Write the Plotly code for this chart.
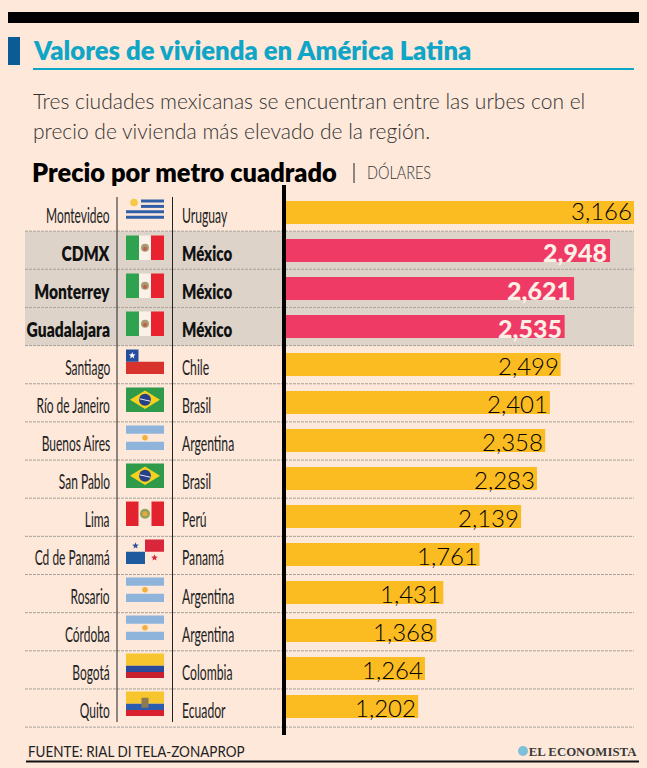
import math, json
import plotly.graph_objects as go

W, H = 647, 768
cities = ["Montevideo", "CDMX", "Monterrey", "Guadalajara", "Santiago", "Río de Janeiro", "Buenos Aires",
          "San Pablo", "Lima", "Cd de Panamá", "Rosario", "Córdoba", "Bogotá", "Quito"]
countries = ["Uruguay", "México", "México", "México", "Chile", "Brasil", "Argentina",
             "Brasil", "Perú", "Panamá", "Argentina", "Argentina", "Colombia", "Ecuador"]
values = [3166, 2948, 2621, 2535, 2499, 2401, 2358, 2283, 2139, 1761, 1431, 1368, 1264, 1202]
highlight = ["CDMX", "Monterrey", "Guadalajara"]

BG = "#FDE8DA"; GOLD = "#FBBC22"; PINK = "#EF3A65"; ROW = "#DDD3C9"; TEAL = "#0FA5C6"; NAVY = "#0B5B95"
SANS = "Lato"

px = lambda x: x / W
py = lambda y: 1 - y / H
shapes, annots, squeeze = [], [], []

def rect(x0, y0, x1, y1, color, layer="above"):
    shapes.append(dict(type="rect", xref="paper", yref="paper", x0=px(x0), x1=px(x1), y0=py(y1), y1=py(y0),
                       fillcolor=color, line_width=0, layer=layer))

def line(x0, y0, x1, y1, color, width, dash="solid", layer="above"):
    shapes.append(dict(type="line", xref="paper", yref="paper", x0=px(x0), x1=px(x1), y0=py(y0), y1=py(y1),
                       line=dict(color=color, width=width, dash=dash), layer=layer))

def poly(pts, color):
    p = "M " + " L ".join(f"{px(a):.5f},{py(b):.5f}" for a, b in pts) + " Z"
    shapes.append(dict(type="path", xref="paper", yref="paper", path=p, fillcolor=color, line_width=0, layer="above"))

def circle(cx, cy, r, color):
    shapes.append(dict(type="circle", xref="paper", yref="paper", x0=px(cx - r), x1=px(cx + r), y0=py(cy + r), y1=py(cy - r),
                       fillcolor=color, line_width=0, layer="above"))

def star(cx, cy, r, color):
    pts = []
    for k in range(10):
        rr = r if k % 2 == 0 else r * 0.42
        a = math.pi * k / 5
        pts.append((cx + rr * math.sin(a), cy - rr * math.cos(a)))
    poly(pts, color)

def text(x, y, s, size, color="#1a1a1a", family=SANS, anchor="left", weight=None, k=1):
    annots.append(dict(xref="paper", yref="paper", x=px(x), y=py(y), text=s, showarrow=False, xanchor=anchor, yanchor="middle",
                       font=dict(size=size, color=color, family=family, weight=weight), align=anchor))
    squeeze.append([k, anchor])

FX0, FX1, FH = 126, 164, 24.5
BLUE_AR = "#8FB4DC"

def flag(country, t):
    x0, x1, b = FX0, FX1, t + FH
    m = (x0 + x1) / 2
    c = (t + b) / 2
    if country == "Uruguay":
        for k in range(4):
            xs = x0 + 15 if k < 2 else x0
            yy = t + 2 + k * 5.4
            rect(xs, yy, x1, yy + 3, "#2F5FA8")
        circle(x0 + 8, t + 5, 3.8, "#F6C844")
    elif country == "México":
        rect(x0 + 13, t, x1 - 13, b, "#FBF1E8")
        rect(x0, t, x0 + 13, b, "#2EA24F"); rect(x1 - 13, t, x1, b, "#E8232F")
        circle(m, c, 4, "#A89C70"); circle(m, c + 1, 2, "#C0604A")
    elif country == "Chile":
        rect(x0, c, x1, b, "#D8322C"); rect(x0, t, x0 + 12.5, c, "#254E9C")
        star(x0 + 6.2, t + 6, 3.6, "#FFFFFF")
    elif country == "Brasil":
        rect(x0, t, x1, b, "#2E9A4A")
        poly([(x0 + 4, c), (m, t + 3), (x1 - 4, c), (m, b - 3)], "#F6D21E")
        circle(m, c, 6, "#263F88")
        line(m - 5.5, c - 1, m + 5.5, c + 1.5, "#E8EDF2", 1)
    elif country == "Argentina":
        rect(x0, t, x1, t + FH / 3, BLUE_AR); rect(x0, b - FH / 3, x1, b, BLUE_AR)
        circle(m, c, 2.8, "#F3B03D")
    elif country == "Perú":
        rect(x0, t, x0 + 12.5, b, "#E2232E"); rect(x1 - 12.5, t, x1, b, "#E2232E")
        circle(m, c, 5, "#8FA35A"); circle(m, c, 2.6, "#E7A93E")
    elif country == "Panamá":
        rect(m, t, x1, c, "#D9263A"); rect(x0, c, m, b, "#1F5A9E")
        star(x0 + 9.5, c - 6, 3.5, "#2A5598"); star(m + 9.5, c + 6, 3.5, "#D9263A")
    elif country == "Colombia":
        rect(x0, t, x1, c, "#F7C52E"); rect(x0, c, x1, c + FH / 4, "#2A4A9B"); rect(x0, c + FH / 4, x1, b, "#C8202F")
    elif country == "Ecuador":
        rect(x0, t, x1, c, "#F7C52E"); rect(x0, c, x1, c + FH / 4, "#2A5CB0"); rect(x0, c + FH / 4, x1, b, "#D9202F")
        rect(m - 3.5, c - 6, m + 3.5, c + 4, "#8B7A55")

# ---- header ----
rect(8, 12, 639, 23, "#000000")
rect(8, 37, 20, 65, NAVY)
text(31, 49.5, "Valores de vivienda en América Latina", 25.7, TEAL, weight=800)
line(33, 69, 634, 69, TEAL, 2.2)
text(31, 101, "Tres ciudades mexicanas se encuentran entre las urbes con el", 21, "#333333", weight=300)
text(31, 130, "precio de vivienda más elevado de la región.", 21, "#333333", weight=300)
text(29.5, 172, "Precio por metro cuadrado", 25.4, "#000000", weight=800)
line(354, 163, 354, 183, "#222222", 1)
text(365, 172, "DÓLARES", 17, "#333333", weight=300, k=0.85)

# ---- rows ----
row_y = lambda i: 193 + i * 38.15
for i, c in enumerate(cities):
    if c in highlight:
        rect(25, row_y(i), 634, row_y(i + 1), ROW, layer="below")
for i in range(1, 15):
    line(25, row_y(i), 634, row_y(i), "#A8A29A", 1, dash="3px,1px")
line(117, 197, 117, 722, "#222222", 1)
line(172.5, 197, 172.5, 722, "#222222", 1)
line(284, 185, 284, 735, "#000000", 4)

for i, (city, country) in enumerate(zip(cities, countries)):
    flag(country, 197.5 + 38 * i)
    yc = 214.5 + 38.05 * i
    hl = city in highlight
    w = 800 if hl else 400
    col = "#111111" if hl else "#222222"
    text(112, yc + (0.5 if hl else 0), city, 21 if not hl else 20, col, SANS, "right", w, k=0.78 if hl else 0.57)
    text(180, yc + (0.5 if hl else 0), country, 21 if not hl else 20, col, SANS, "left", w, k=0.75 if hl else 0.58)

# ---- value labels tied to the data axis ----
for i, (city, v) in enumerate(zip(cities, values)):
    hl = city in highlight
    annots.append(dict(xref="x", yref="y", x=v, y=city, text=f"{v:,}", showarrow=False,
                       xanchor="right", yanchor="middle", xshift=-1 if hl else 0, yshift=2 if i == 0 else -1,
                       font=dict(size=25 if hl else 24, color="#FBEFE6" if hl else "#000000", family=SANS, weight=900 if hl else 300)))
    squeeze.append([1, "right"])

# ---- footer ----
text(26, 751, "FUENTE: RIAL DI TELA-ZONAPROP", 15.5, "#222222", weight=400, k=0.87)
line(26, 761.5, 639, 761.5, "#111111", 2.2)
circle(523, 751, 5, "#7FC0D8")
text(638.5, 751, "<b>EL ECONOMISTA</b>", 13.5, "#3a3a3a", "Liberation Serif", "right", k=0.95)

fig = go.Figure(go.Bar(
    y=cities, x=values, orientation="h", width=23 / 38,
    marker=dict(color=[PINK if c in highlight else GOLD for c in cities], line_width=0),
    hoverinfo="skip",
))
fig.update_layout(
    width=W, height=H, margin=dict(l=0, r=0, t=0, b=0), paper_bgcolor=BG, plot_bgcolor="rgba(0,0,0,0)",
    showlegend=False, shapes=shapes, annotations=annots,
    xaxis=dict(domain=[px(286), 1], range=[0, (W - 286) * 3166 / 348], visible=False, fixedrange=True),
    yaxis=dict(domain=[py(725.5), py(193.5)], categoryorder="array", categoryarray=cities, autorange="reversed",
               visible=False, fixedrange=True),
    bargap=0.4,
)
post = """
document.body.style.margin='0';document.documentElement.style.background='%s';document.body.style.overflow='hidden';
var sq=%s;
document.querySelectorAll('.annotation').forEach(function(g){
  var i=+g.getAttribute('data-index'),s=sq[i];if(!s||s[0]===1)return;
  var t=g.querySelector('text');var b=t.getBBox();
  var ax=s[1]==='right'?b.x+b.width:b.x;
  t.setAttribute('transform','translate('+ax+',0) scale('+s[0]+',1) translate('+(-ax)+',0)');
});
""" % (BG, json.dumps(squeeze))
fig.write_html("out.html", config={"displayModeBar": False}, post_script=post)
